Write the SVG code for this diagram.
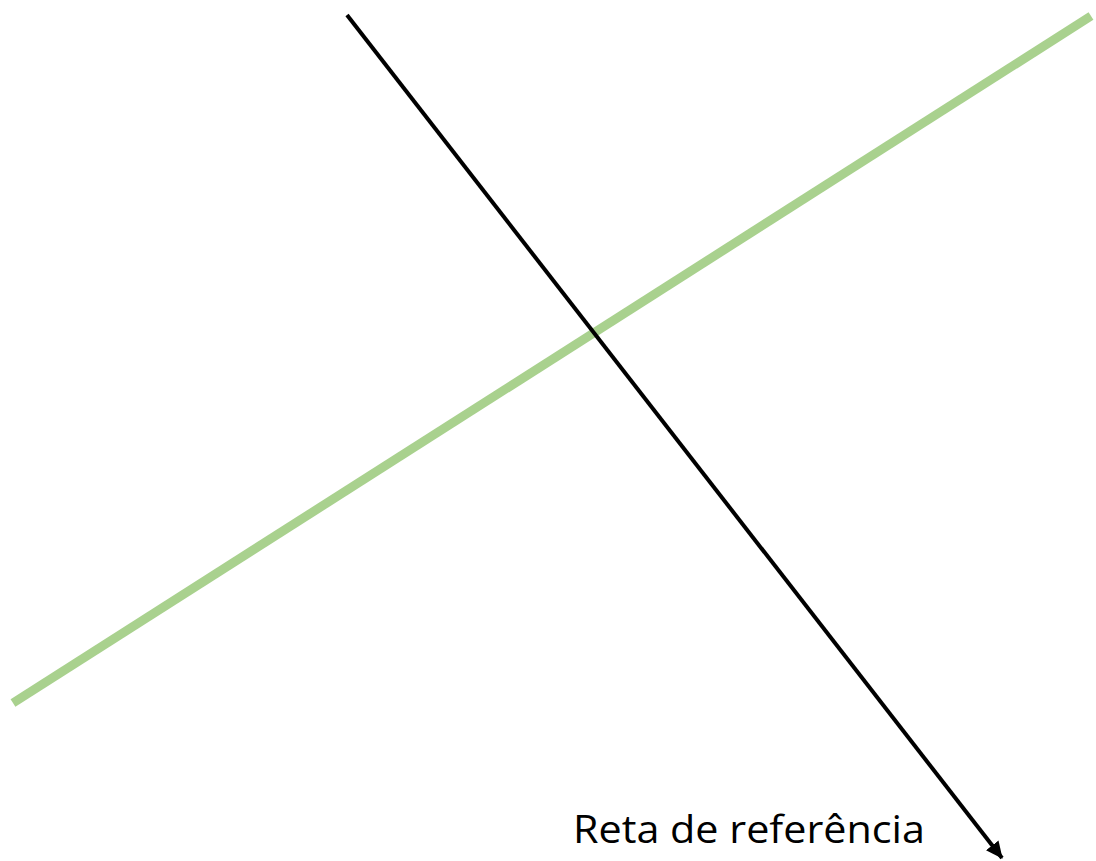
<svg xmlns="http://www.w3.org/2000/svg" width="1096" height="861" viewBox="0 0 1096 861">
<defs>
<marker id="arr" markerWidth="18" markerHeight="16" refX="16" refY="8" orient="auto" markerUnits="userSpaceOnUse">
<path d="M0,0 L17,8 L0,16 Z" fill="#000"/>
</marker>
<style>
.lbl{font-family:"Open Sans","Liberation Sans",sans-serif;font-size:38px;fill:#000}
</style>
</defs>
<rect width="1096" height="861" fill="#fff"/>
<g id="green-line">
<line x1="13" y1="703" x2="1091" y2="16" stroke="#A9D18E" stroke-width="9"/>
</g>
<g id="connectors">
<line x1="347" y1="15" x2="1002" y2="858" stroke="#000" stroke-width="4" marker-end="url(#arr)"/>
</g>
<g id="label">
<text class="lbl" x="573" y="843" textLength="352" lengthAdjust="spacingAndGlyphs">Reta de referência</text>
</g>
</svg>
